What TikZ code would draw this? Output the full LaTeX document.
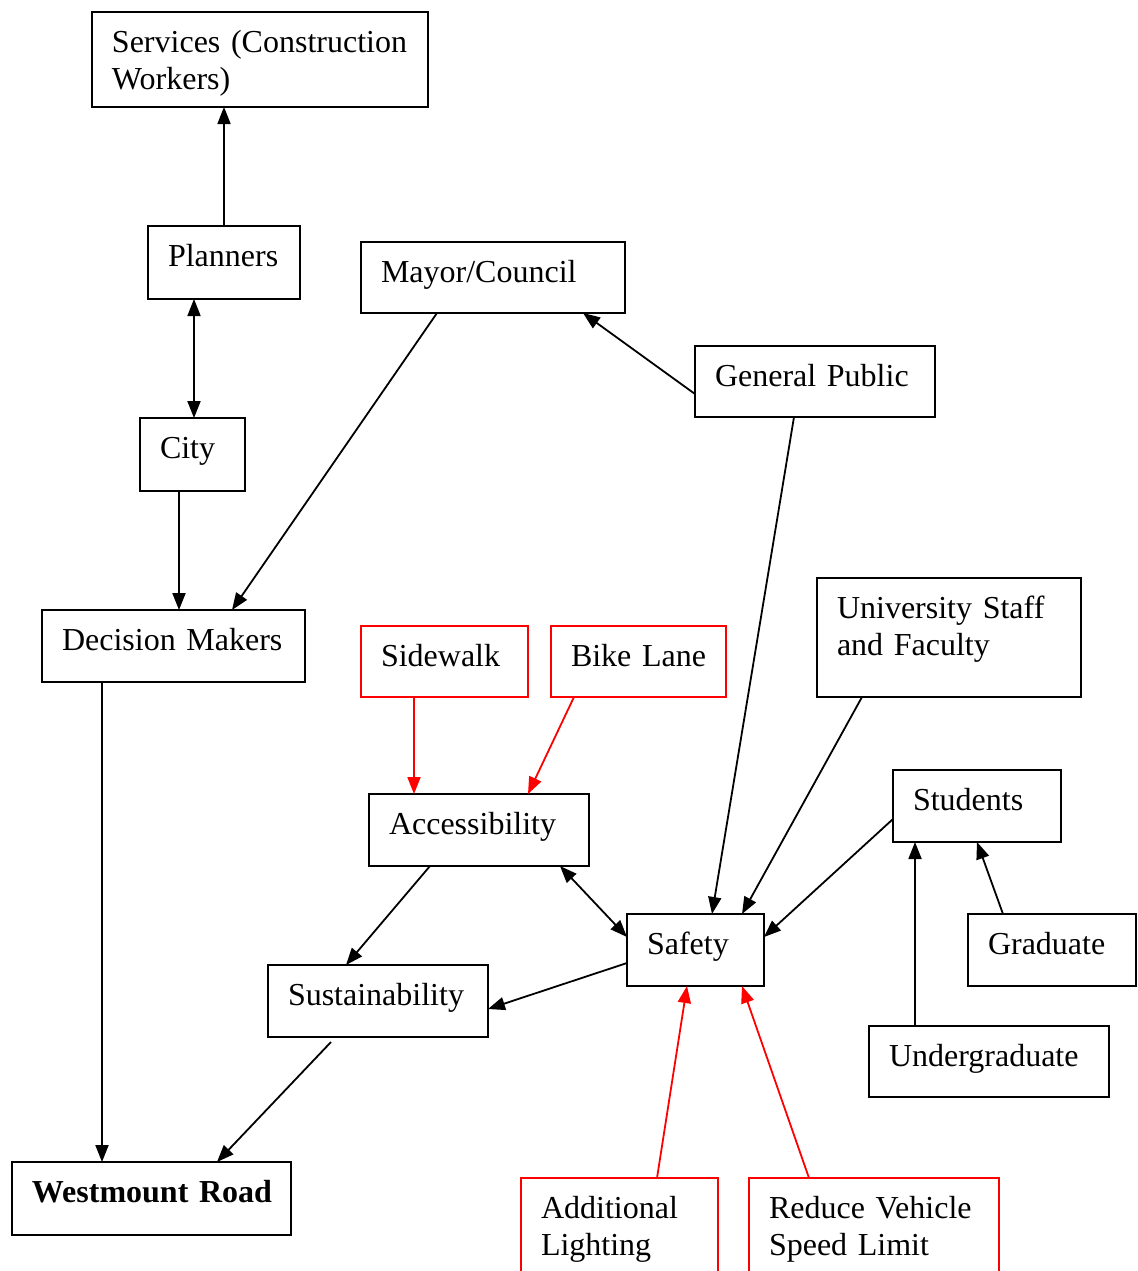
\documentclass[tikz,border=0pt]{standalone}
\usepackage{fontspec}
\setmainfont{Liberation Serif}
\usetikzlibrary{arrows.meta,calc}

\tikzset{
  box/.style={draw, line width=1pt, anchor=north west, outer sep=0pt,
    inner xsep=10pt, inner ysep=0pt, align=left, text height=20pt,
    font=\fontsize{16}{18.5}\selectfont},
  redbox/.style={box, draw=red},
  arr/.style={line width=0.9pt, -{Triangle[length=8.5pt,width=6.5pt]}},
  darr/.style={line width=0.9pt, {Triangle[length=8.5pt,width=6.5pt]}-{Triangle[length=8.5pt,width=6.5pt]}},
  redarr/.style={arr, draw=red, color=red},
}

\begin{document}
\begin{tikzpicture}[x=0.5pt, y=-0.5pt]
\useasboundingbox (0,0) rectangle (1137,1271);
\clip (0,0) rectangle (1137,1271);

% boxes
\node[box, text width=148pt, text depth=27.5pt] (serv) at (92,12) {\mbox{Services (Construction}\\Workers)};
\node[box, text width=56pt, text depth=16.5pt] (plan) at (148,226) {Planners};
\node[box, text width=112pt, text depth=15.5pt] (mayor) at (361,242) {Mayor/Council};
\node[box, text width=100pt, text depth=15.5pt] (gen) at (695,346) {\mbox{General Public}};
\node[box, text width=32.5pt, text depth=16.5pt] (city) at (140,418) {City};
\node[box, text width=111.5pt, text depth=16pt] (dec) at (42,610) {\mbox{Decision Makers}};
\node[redbox, text width=63.5pt, text depth=15.5pt] (side) at (361,626) {Sidewalk};
\node[redbox, text width=67.5pt, text depth=15.5pt] (bike) at (551,626) {\mbox{Bike Lane}};
\node[box, text width=112pt, text depth=39.5pt] (univ) at (817,578) {\mbox{University Staff}\\and Faculty};
\node[box, text width=90pt, text depth=16pt] (acc) at (369,794) {Accessibility};
\node[box, text width=64pt, text depth=16pt] (stud) at (893,770) {Students};
\node[box, text width=48.5pt, text depth=16pt] (safe) at (627,914) {Safety};
\node[box, text width=64pt, text depth=16pt] (grad) at (968,914) {Graduate};
\node[box, text width=90pt, text depth=16pt] (sust) at (268,965) {\mbox{Sustainability}};
\node[box, text width=100pt, text depth=15.5pt] (under) at (869,1026) {\mbox{Undergraduate}};
\node[box, text width=119.5pt, text depth=16.5pt] (west) at (12,1162) {\mbox{\bfseries Westmount Road}};
\node[redbox, text width=78.5pt, text depth=60pt] (light) at (521,1178) {Additional\\Lighting};
\node[redbox, text width=105pt, text depth=60pt] (speed) at (749,1178) {\mbox{Reduce Vehicle}\\\mbox{Speed Limit}};

% connectors
\draw[arr] (plan.north) -- (plan.north |- serv.south);
\draw[darr] ($(plan.south west)+(46,0)$) -- ($(city.north west)+(54,0)$);
\draw[arr] ($(city.south west)+(39,0)$) -- ($(dec.north west)+(137,0)$);
\draw[arr] ($(mayor.south west)+(76,0)$) -- ($(dec.north west)+(190,0)$);
\draw[arr] ($(gen.north west)+(0,48)$) -- ($(mayor.south east)+(-42,0)$);
\draw[arr] ($(gen.south west)+(99,0)$) -- ($(safe.north west)+(85,0)$);
\draw[arr] ($(univ.south west)+(45,0)$) -- ($(safe.north west)+(115,0)$);
\draw[arr] ($(stud.north west)+(0,49)$) -- ($(safe.north east)+(0,23)$);
\draw[arr] ($(under.north west)+(46,0)$) -- ($(stud.south west)+(22,0)$);
\draw[arr] ($(grad.north west)+(35,0)$) -- ($(stud.south west)+(84,0)$);
\draw[redarr] ($(side.south west)+(53,0)$) -- ($(acc.north west)+(45,0)$);
\draw[redarr] ($(bike.south west)+(23,0)$) -- ($(acc.north west)+(159,0)$);
\draw[darr] ($(acc.south west)+(191,0)$) -- ($(safe.north west)+(0,23)$);
\draw[arr] ($(acc.south west)+(61,0)$) -- ($(sust.north west)+(78,0)$);
\draw[arr] ($(safe.north west)+(0,49)$) -- ($(sust.north east)+(0,44)$);
\draw[arr] ($(sust.south west)+(63,5)$) -- ($(west.north west)+(205,0)$);
\draw[arr] ($(dec.south west)+(60,0)$) -- ($(west.north west)+(90,0)$);
\draw[redarr] ($(light.north west)+(136,0)$) -- ($(safe.south west)+(60,0)$);
\draw[redarr] ($(speed.north west)+(60,0)$) -- ($(safe.south west)+(115,0)$);
\end{tikzpicture}
\end{document}
